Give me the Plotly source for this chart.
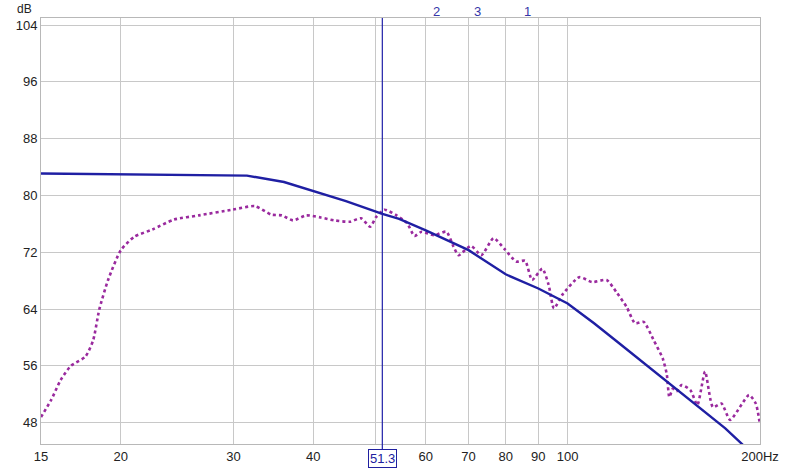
import math
import plotly.graph_objects as go

# Target curve (solid blue)
target_f = [15, 20, 25, 31.5, 36, 40, 45, 51.3, 54.5, 60, 70, 80, 90, 100, 110, 120, 130, 142, 160, 176.5, 190]
target_db = [83.1, 83.0, 82.95, 82.8, 81.9, 80.6, 79.2, 77.4, 76.7, 75.1, 72.3, 68.9, 66.9, 64.8, 62.0, 59.3, 56.8, 54.0, 50.4, 47.2, 44.5]

# Measured response (dotted magenta)
meas_f = [15.0, 15.56, 16.1, 16.7, 17.6, 18.1, 18.5, 19.1, 20.0, 21.0, 22.4, 24.2, 26.5, 29.9, 32.4,
          34.4, 35.7, 37.2, 39.0, 41.1, 43.1, 45.6, 47.5, 49.1, 50.2, 51.7, 54.0, 56.1, 57.6, 59.1,
          61.8, 64.6, 66.3, 67.5, 70.6, 73.3, 76.6, 79.6, 83.1, 85.8, 88.0, 91.3, 93.4, 95.2, 98.1,
          104.3, 109.2, 115.1, 119.2, 123.7, 127.5, 131.5, 136.4, 140.8, 142.9, 144.3, 146.1, 148.0,
          150.8, 155.6, 159.6, 164.1, 168.8, 174.1, 179.6, 192.3, 197.0, 200.0]
meas_db = [48.8, 51.2, 54.0, 56.0, 57.3, 59.6, 63.9, 68.1, 72.3, 74.2, 75.2, 76.6, 77.2, 78.0, 78.5,
           77.3, 77.2, 76.5, 77.2, 76.9, 76.5, 76.3, 76.8, 75.6, 77.0, 78.0, 77.2, 76.1, 74.3, 74.9,
           74.4, 74.9, 72.8, 71.6, 72.9, 71.6, 74.0, 72.5, 70.7, 70.8, 68.1, 69.7, 67.4, 64.1, 66.0,
           68.5, 67.8, 68.1, 66.4, 64.3, 62.0, 62.2, 59.6, 57.1, 54.9, 51.6, 52.8, 52.4,
           53.3, 52.6, 50.5, 55.2, 50.2, 50.7, 48.4, 51.9, 50.7, 47.7]

x_ticks = [15, 20, 30, 40, 50, 60, 70, 80, 90, 100, 200]
x_ticktext = ["15", "20", "30", "40", "", "60", "70", "80", "90", "100", "200Hz"]
y_ticks = [48, 56, 64, 72, 80, 88, 96, 104]

cursor_f = 51.3
cursor_label = "51.3"
marker_f = [62.3, 72.2, 86.7]
marker_labels = ["2", "3", "1"]

FONT = "Liberation Sans, Arial"

fig = go.Figure()
fig.add_trace(go.Scatter(x=meas_f, y=meas_db, mode="lines",
                         line=dict(color="#9a2a9e", width=2.6, dash="dot", shape="spline", smoothing=0.6),
                         showlegend=False, hoverinfo="skip"))
fig.add_trace(go.Scatter(x=target_f, y=target_db, mode="lines",
                         line=dict(color="#1f1fa3", width=2.4),
                         showlegend=False, hoverinfo="skip"))

# cursor line
fig.add_shape(type="line", xref="x", yref="paper", x0=cursor_f, x1=cursor_f, y0=-0.012, y1=1,
              line=dict(color="#2020a8", width=1.2), layer="above")

annotations = [
    dict(x=math.log10(cursor_f), y=0, xref="x", yref="paper", yanchor="middle", yshift=-14, text=cursor_label,
         showarrow=False, font=dict(family=FONT, size=13, color="#2020a0"),
         bordercolor="#2020a0", borderwidth=1, borderpad=1, bgcolor="white"),
    dict(x=0, y=1, xref="paper", yref="paper", xanchor="right", yanchor="bottom", xshift=-7, yshift=0,
         text="dB", showarrow=False, font=dict(family=FONT, size=12, color="#222")),
]
for f, t in zip(marker_f, marker_labels):
    annotations.append(dict(x=math.log10(f), y=1, xref="x", yref="paper", yanchor="bottom", yshift=-3,
                            text=t, showarrow=False,
                            font=dict(family=FONT, size=13, color="#3535a8")))

fig.update_layout(
    width=800, height=470,
    margin=dict(l=41, r=40, t=18, b=26),
    paper_bgcolor="white", plot_bgcolor="white",
    font=dict(family=FONT, size=13, color="#222"),
    annotations=annotations,
    xaxis=dict(type="log", range=[math.log10(15), math.log10(200)], automargin=False,
               tickvals=x_ticks, ticktext=x_ticktext, showgrid=True, gridcolor="#c8c8c8", gridwidth=1,
               showline=True, linecolor="#b8b8b8", mirror=True, zeroline=False, ticks="",
               tickfont=dict(size=13, color="#222")),
    yaxis=dict(range=[45, 105], tickvals=y_ticks, showgrid=True, gridcolor="#c8c8c8", gridwidth=1,
               automargin=False,
               showline=True, linecolor="#b8b8b8", mirror=True, zeroline=False, ticks="",
               tickfont=dict(size=13, color="#222")),
)

fig.write_html("out.html", config={"displayModeBar": False},
               post_script="document.body.style.margin='0';")
